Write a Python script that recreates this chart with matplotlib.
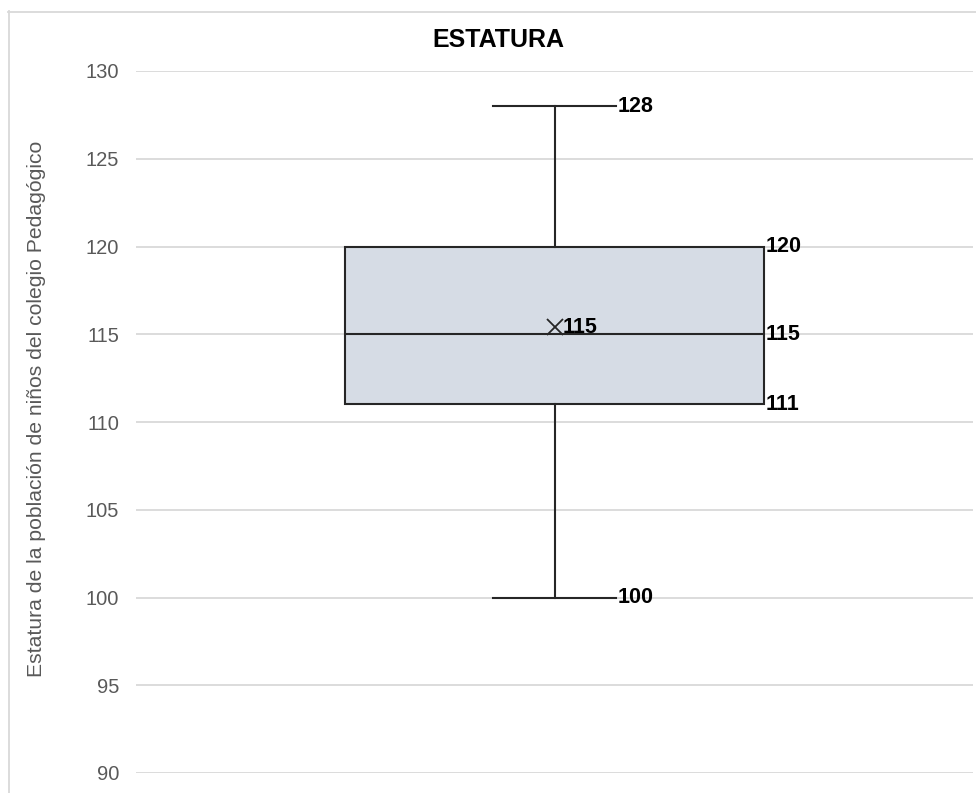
import matplotlib.pyplot as plt
from matplotlib.lines import Line2D

plt.rcParams['font.family'] = ['Liberation Sans', 'DejaVu Sans']

title = 'ESTATURA'
ylabel = 'Estatura de la población de niños del colegio Pedagógico'
minimo = 100
q1 = 111
mediana = 115
q3 = 120
maximo = 128
media = 115.4
yticks = [90, 95, 100, 105, 110, 115, 120, 125, 130]

fig = plt.figure(figsize=(9.76, 7.93), dpi=100)
ax = fig.add_axes([136 / 976, 1 - 773 / 793, (973 - 136) / 976, (773 - 71) / 793])

stats = [{'med': mediana, 'q1': q1, 'q3': q3, 'whislo': minimo, 'whishi': maximo,
          'mean': media, 'fliers': []}]
ax.bxp(stats, positions=[1], widths=0.5, showmeans=True, patch_artist=True,
       boxprops=dict(facecolor='#d6dce5', edgecolor='#262626', linewidth=1.5),
       medianprops=dict(color='#262626', linewidth=1.5),
       whiskerprops=dict(color='#262626', linewidth=1.5),
       capprops=dict(color='#262626', linewidth=1.5),
       capwidths=0.146,
       meanprops=dict(marker='x', markeredgecolor='#262626', markersize=11,
                      markeredgewidth=1.3))

ax.set_xlim(0.5, 1.5)
ax.set_ylim(90, 130)
ax.set_yticks(yticks)
ax.set_xticks([])
ax.yaxis.grid(True, color='#d9d9d9', linewidth=1.3)
ax.set_axisbelow(True)
for s in ax.spines.values():
    s.set_visible(False)
ax.tick_params(axis='y', length=0, pad=12, labelsize=14.5, labelcolor='#595959')

lab = dict(fontsize=15.5, fontweight='bold', color='black', va='center', ha='left')
ax.text(1 + 0.075, maximo, f'{maximo}', **lab)
ax.text(1 + 0.075, minimo, f'{minimo}', **lab)
ax.text(1.252, q3, f'{q3}', **lab)
ax.text(1.252, mediana, f'{mediana}', **lab)
ax.text(1.252, q1, f'{q1}', **lab)
ax.annotate(f'{round(media)}', (1, media), xytext=(6, 0), textcoords='offset points', **lab)

fig.text(37 / 976, 1 - 409 / 793, ylabel, rotation=90, fontsize=15.2, color='#595959',
         ha='center', va='center')
fig.text(498 / 976, 1 - 40 / 793, title, fontsize=18, fontweight='bold',
         ha='center', va='center')

# marco del gráfico
fig.add_artist(Line2D([8.5 / 976, 8.5 / 976], [1 - 11 / 793, 0], color='#d9d9d9',
                      linewidth=1.3, transform=fig.transFigure))
fig.add_artist(Line2D([8 / 976, 1], [1 - 11.5 / 793, 1 - 11.5 / 793], color='#d9d9d9',
                      linewidth=1.3, transform=fig.transFigure))

fig.savefig('out.png', dpi=100)
